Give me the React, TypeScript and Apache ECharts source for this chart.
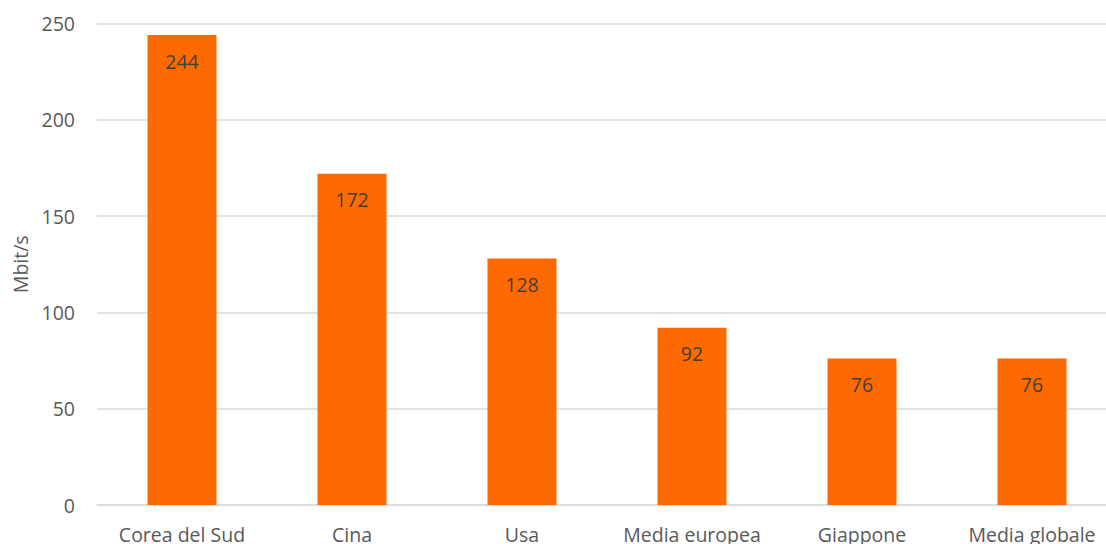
import React, { useEffect, useRef } from "react";
import * as echarts from "echarts";

const categories = ["Corea del Sud", "Cina", "Usa", "Media europea", "Giappone", "Media globale"];
const values = [244, 172, 128, 92, 76, 76];
const yTicks = { min: 0, max: 250, interval: 50 };
const yName = "Mbit/s";

const FONT = "'Open Sans', 'Noto Sans', sans-serif";
const FS = 19.5;

export default function App() {
  const ref = useRef<HTMLDivElement>(null);
  useEffect(() => {
    if (!ref.current) return;
    const chart = echarts.init(ref.current, undefined, { renderer: "svg" });
    chart.setOption({
      animation: false,
      grid: { left: 97, top: 23.5, width: 1020, height: 482, containLabel: false },
      xAxis: {
        type: "category",
        data: categories,
        axisLine: { show: true, lineStyle: { color: "#d9d9d9", width: 1.5 } },
        axisTick: { show: false },
        axisLabel: { color: "#595959", fontSize: FS, fontFamily: FONT, margin: 19, interval: 0 },
      },
      yAxis: {
        type: "value",
        min: yTicks.min,
        max: yTicks.max,
        interval: yTicks.interval,
        name: yName,
        nameLocation: "middle",
        nameGap: 67,
        nameRotate: 90,
        nameTextStyle: { color: "#595959", fontSize: FS, fontFamily: FONT },
        axisLine: { show: false },
        axisTick: { show: false },
        axisLabel: { color: "#595959", fontSize: FS, fontFamily: FONT, margin: 22 },
        splitLine: { lineStyle: { color: "#d9d9d9", width: 1.5 } },
      },
      series: [
        {
          type: "bar",
          data: values,
          barWidth: 69,
          itemStyle: { color: "#ff6a00" },
          label: {
            show: true,
            position: "insideTop",
            distance: 16,
            color: "#404040",
            fontSize: FS,
            fontFamily: FONT,
          },
        },
      ],
    });
    return () => chart.dispose();
  }, []);
  return (
    <div style={{ position: "absolute", left: 0, top: 0, width: 1106, height: 544, overflow: "hidden" }}>
      <div ref={ref} style={{ position: "absolute", left: 0, top: 0, width: 1140, height: 544 }} />
    </div>
  );
}
